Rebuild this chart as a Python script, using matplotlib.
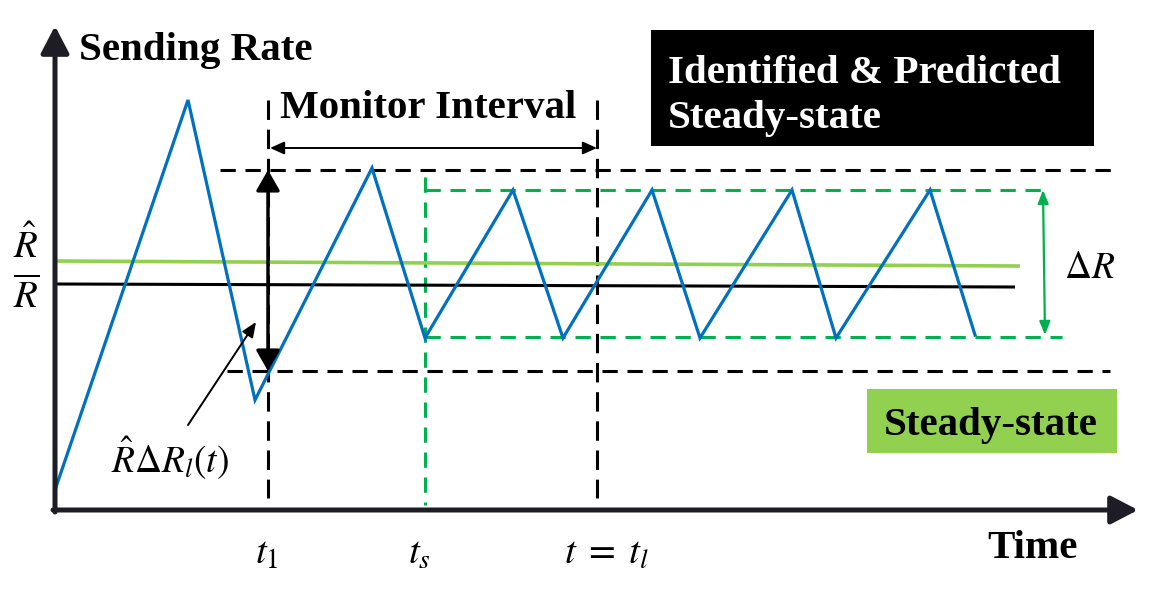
import matplotlib
matplotlib.use("Agg")
import matplotlib.pyplot as plt
from matplotlib.patches import Rectangle

plt.rcParams['mathtext.fontset'] = 'stix'
plt.rcParams['lines.scale_dashes'] = False

# ---- data (diagram units: x = time position, y = screen-style rate position, down is lower rate)
rate_t = [55, 188, 255, 372, 425, 513, 563, 652, 700, 792, 836, 930, 975]
rate_y = [490, 100, 400, 168, 338, 190, 338, 190, 338, 190, 338, 190, 335]

rhat_t = [55, 1020]
rhat_y = [261, 266]
rbar_t = [55, 1015]
rbar_y = [284, 287]

upper_bound_y = 170
lower_bound_y = 371
ss_top_y = 190
ss_bot_y = 337

t1_x = 268
ts_x = 425
tl_x = 597

tick_labels = [r'$t_1$', r'$t_s$', r'$t\;=\;t_l$']
tick_pos = [267, 419, 606]

BLUE = '#0070c0'
LGREEN = '#92d050'
DGREEN = '#00b050'
AXC = '#1e1d26'

fig = plt.figure(figsize=(11.63, 5.95), dpi=100)
ax = fig.add_axes([0, 0, 1, 1])
ax.set_xlim(0, 1163)
ax.set_ylim(595, 0)
ax.axis('off')

# axes arrows
ax.annotate('', xy=(55, 26), xytext=(55, 512),
            arrowprops=dict(arrowstyle='-|>,head_length=1.65,head_width=0.86', lw=3.6,
                            color=AXC, shrinkA=0, shrinkB=0, mutation_scale=10))
ax.annotate('', xy=(1138, 510), xytext=(53, 510),
            arrowprops=dict(arrowstyle='-|>,head_length=1.65,head_width=0.86', lw=3.6,
                            color=AXC, shrinkA=0, shrinkB=0, mutation_scale=10))

# dashed guides (black)
hdash = (0, (11, 7))
vdash = (0, (14, 7))
ax.plot([220, 1118], [upper_bound_y, upper_bound_y], color='black', lw=2.2, ls=hdash)
ax.plot([227, 1110], [lower_bound_y, lower_bound_y], color='black', lw=2.2, ls=hdash)
ax.plot([t1_x, t1_x], [100, 498], color='black', lw=2.2, ls=vdash)
ax.plot([tl_x, tl_x], [100, 498], color='black', lw=2.2, ls=vdash)

# green dashed steady-state box
gdash = (0, (11, 7))
ax.plot([ts_x, ts_x], [177, 505], color=DGREEN, lw=2.2, ls=gdash)
ax.plot([ts_x, 1050], [ss_top_y, ss_top_y], color=DGREEN, lw=2.2, ls=gdash)
ax.plot([ts_x, 1062], [ss_bot_y, ss_bot_y], color=DGREEN, lw=2.2, ls=gdash)

# reference lines
ax.plot(rhat_t, rhat_y, color=LGREEN, lw=2.6, solid_capstyle='butt')
ax.plot(rbar_t, rbar_y, color='black', lw=2.2, solid_capstyle='butt')

# sending rate
ax.plot(rate_t, rate_y, color=BLUE, lw=2.3, solid_joinstyle='miter')

# vertical double arrow at t1
ax.annotate('', xy=(t1_x, upper_bound_y), xytext=(t1_x, lower_bound_y),
            arrowprops=dict(arrowstyle='<|-|>,head_length=1.25,head_width=0.72', lw=2.5,
                            color='black', shrinkA=0, shrinkB=0, mutation_scale=10))

# Monitor interval arrow
ax.annotate('', xy=(270, 148), xytext=(tl_x, 148),
            arrowprops=dict(arrowstyle='<|-|>,head_length=0.85,head_width=0.38', lw=1.4,
                            color='black', shrinkA=0, shrinkB=0, mutation_scale=10))

# Delta R arrow
ax.annotate('', xy=(1043, ss_top_y), xytext=(1045, 335),
            arrowprops=dict(arrowstyle='<|-|>,head_length=0.8,head_width=0.32', lw=1.6,
                            color=DGREEN, shrinkA=0, shrinkB=0, mutation_scale=10))
ax.text(1090, 268, r'$\Delta R$', fontsize=27, ha='center', va='center', color='black')

# annotation arrow
ax.annotate('', xy=(256, 322), xytext=(188, 425),
            arrowprops=dict(arrowstyle='-|>,head_length=0.9,head_width=0.38', lw=1.4,
                            color='black', shrinkA=0, shrinkB=0, mutation_scale=10))
ax.text(170, 458, r'$\hat{R}\Delta R_l(t)$', fontsize=27, ha='center', va='center')

# y labels
ax.text(26, 246, r'$\hat{R}$', fontsize=28, ha='center', va='center')
ax.text(26, 297, r'$\overline{R}$', fontsize=28, ha='center', va='center')

# tick labels
for p, lab in zip(tick_pos, tick_labels):
    ax.text(p, 553, lab, fontsize=28, ha='center', va='center')

serif = ['Liberation Serif', 'DejaVu Serif']
FS = 29.5
ax.text(79, 60, 'Sending Rate', fontsize=FS, fontweight='bold', family=serif,
        ha='left', va='baseline')
ax.text(280, 118, 'Monitor Interval', fontsize=FS, fontweight='bold', family=serif,
        ha='left', va='baseline')
ax.text(1032, 558, 'Time', fontsize=FS, fontweight='bold', family=serif,
        ha='center', va='baseline')

# black box
ax.add_patch(Rectangle((651, 30), 443, 116, facecolor='black', edgecolor='none'))
ax.text(668, 83, 'Identified & Predicted', fontsize=FS, fontweight='bold', family=serif,
        ha='left', va='baseline', color='white')
ax.text(668, 128, 'Steady-state', fontsize=FS, fontweight='bold', family=serif,
        ha='left', va='baseline', color='white')

# green box
ax.add_patch(Rectangle((867, 389), 250, 64, facecolor=LGREEN, edgecolor='none'))
ax.text(991, 435, 'Steady-state', fontsize=FS, fontweight='bold', family=serif,
        ha='center', va='baseline', color='black')

fig.savefig('out.png', dpi=100)
